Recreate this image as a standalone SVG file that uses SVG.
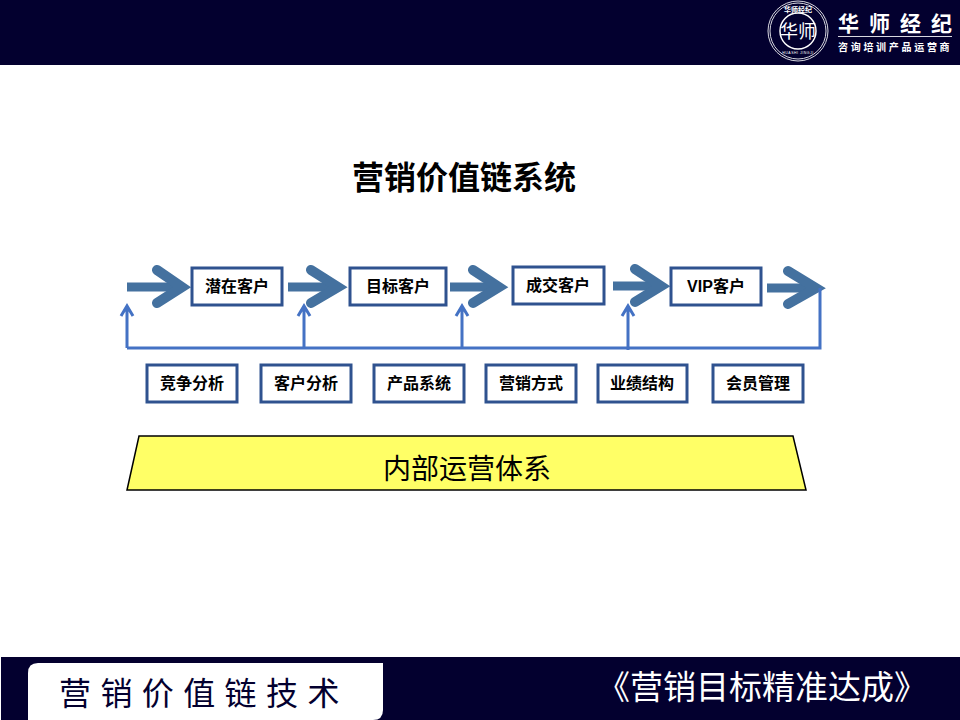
<svg xmlns="http://www.w3.org/2000/svg" width="960" height="720" viewBox="0 0 960 720">
<style>
text{font-family:"Liberation Sans","Noto Sans CJK SC",sans-serif;text-anchor:middle}
.box{fill:#fff;stroke:#2f528f;stroke-width:3}
.lbl{font-size:16px;font-weight:700;fill:#000}
.shaft{fill:none;stroke:#44719f;stroke-width:9}
.head{fill:none;stroke:#44719f;stroke-width:10;stroke-linecap:round;stroke-linejoin:miter;stroke-miterlimit:6}
.up{fill:none;stroke:#4472c4;stroke-width:3}
.logo-line{fill:none;stroke:#d8d8e0;stroke-width:1}
</style>
<rect id="top-bar" x="0" y="0" width="960" height="65" fill="#03002f"/>
<g id="logo">
<circle class="logo-line" cx="798" cy="31" r="30"/>
<circle class="logo-line" cx="798" cy="31" r="28"/>
<circle cx="798" cy="31" r="18" fill="#03002f" stroke="#fff" stroke-width="1.5"/>
<text x="798" y="38" font-size="18" fill="#fff" style="font-family:'Noto Sans CJK SC',sans-serif">华师</text>
<text x="798" y="12" font-size="7" font-weight="700" fill="#fff">华师经纪</text>
<text x="798" y="54" font-size="3.5" fill="#fff" letter-spacing="0.5">HUASHI   JINGJI</text>
<text x="838 869 900 931" y="31" font-size="21" font-weight="700" fill="#fff" style="font-family:'Noto Sans CJK SC',serif;text-anchor:start">华师经纪</text>
<rect x="838" y="36" width="114" height="1" fill="#d8d8e0"/>
<text x="838 850.7 863.4 876.1 888.8 901.5 914.2 926.9 939.6" y="51" font-size="10" font-weight="700" fill="#fff" style="text-anchor:start">咨询培训产品运营商</text>
</g>
<text id="title" x="464" y="189" font-size="32" font-weight="700" fill="#000">营销价值链系统</text>
<g id="connectors">
<path class="shaft" d="M127 287H180M288 287H336M450 287H497M613 286H659M767 288H814"/>
<path class="head" d="M157 270L182 287L157 303M311 270L338 287L311 303M473 270L499 287L473 303M635 269L661 286L635 302M788 271L816 288L788 304"/>
<path class="up" d="M127 348H820V288"/>
<path class="up" d="M127 348V306M121 316L127 306L133 316M304 348V306M298 316L304 306L310 316M462 348V306M456 316L462 306L468 316M628 350V306M622 316L628 306L634 316"/>
</g>
<g id="n1"><rect class="box" x="192" y="268" width="90" height="37"/><text class="lbl" x="237" y="292">潜在客户</text></g>
<g id="n2"><rect class="box" x="350" y="268" width="96" height="37"/><text class="lbl" x="398" y="292">目标客户</text></g>
<g id="n3"><rect class="box" x="513" y="267" width="91" height="37"/><text class="lbl" x="558" y="291">成交客户</text></g>
<g id="n4"><rect class="box" x="671" y="268" width="90" height="37"/><text class="lbl" x="716" y="292">VIP客户</text></g>
<g id="s1"><rect class="box" x="147" y="365" width="90" height="37"/><text class="lbl" x="192" y="389">竞争分析</text></g>
<g id="s2"><rect class="box" x="261" y="365" width="90" height="37"/><text class="lbl" x="306" y="389">客户分析</text></g>
<g id="s3"><rect class="box" x="374" y="365" width="90" height="37"/><text class="lbl" x="419" y="389">产品系统</text></g>
<g id="s4"><rect class="box" x="486" y="365" width="90" height="37"/><text class="lbl" x="531" y="389">营销方式</text></g>
<g id="s5"><rect class="box" x="598" y="365" width="89" height="37"/><text class="lbl" x="642" y="389">业绩结构</text></g>
<g id="s6"><rect class="box" x="713" y="365" width="90" height="37"/><text class="lbl" x="758" y="389">会员管理</text></g>
<g id="base"><path d="M139 436H793L806 490H127Z" fill="#ffff66" stroke="#000" stroke-width="1.5"/><text x="467" y="479" font-size="28" fill="#000">内部运营体系</text></g>
<rect id="bottom-bar" x="1" y="657" width="959" height="63" fill="#03002f"/>
<g id="footer">
<path d="M38 663H383V710Q383 720 373 720H28V673Q28 663 38 663Z" fill="#fff"/>
<text x="59" y="705" font-size="32" fill="#03002f" letter-spacing="9.4" style="text-anchor:start">营销价值链技术</text>
<text x="762" y="699" font-size="33" fill="#fff">《营销目标精准达成》</text>
</g>
</svg>
